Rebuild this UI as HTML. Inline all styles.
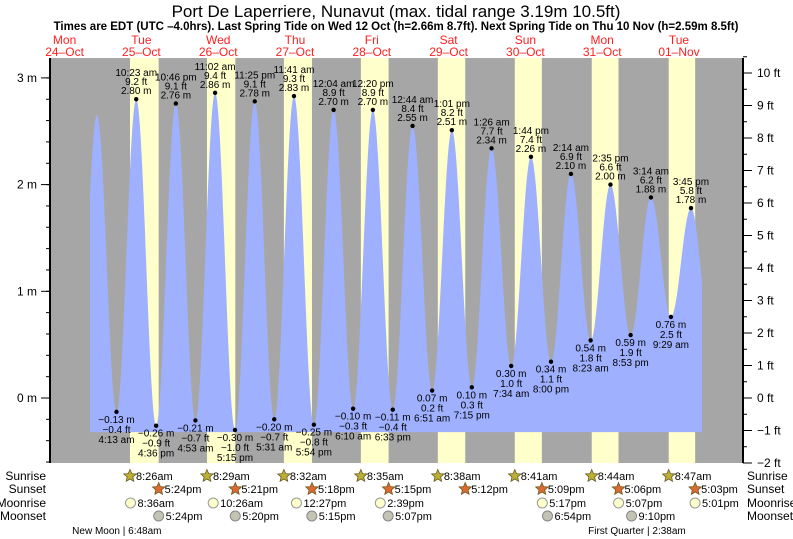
<!DOCTYPE html>
<html><head><meta charset="utf-8"><style>
html,body{margin:0;padding:0;background:#fff}
svg{display:block;font-family:"Liberation Sans",sans-serif}
</style></head><body>
<svg id="chart" width="793" height="539" viewBox="0 0 793 539" xmlns="http://www.w3.org/2000/svg">
<text x="396" y="17" text-anchor="middle" font-size="17">Port De Laperriere, Nunavut (max. tidal range 3.19m 10.5ft)</text>
<text x="396" y="30" text-anchor="middle" font-size="11.5" font-weight="bold">Times are EDT (UTC –4.0hrs). Last Spring Tide on Wed 12 Oct (h=2.66m 8.7ft). Next Spring Tide on Thu 10 Nov (h=2.59m 8.5ft)</text>
<g id="bands"></g><g id="tide"></g><g id="axes"></g><g id="labels"></g><g id="astro"></g>
</svg>
<script>
// ---- data ----
const dayNames = ["Mon","Tue","Wed","Thu","Fri","Sat","Sun","Mon","Tue"];
const dayDates = ["24–Oct","25–Oct","26–Oct","27–Oct","28–Oct","29–Oct","30–Oct","31–Oct","01–Nov"];
const sunriseTimes = ["8:26am","8:29am","8:32am","8:35am","8:38am","8:41am","8:44am","8:47am"];
const sunsetTimes = ["5:24pm","5:21pm","5:18pm","5:15pm","5:12pm","5:09pm","5:06pm","5:03pm"];
const sunDays = [1,2,3,4,5,6,7,8];
const moonriseDays = [1,2,3,4,6,7,8];
const moonriseTimes = ["8:36am","10:26am","12:27pm","2:39pm","5:17pm","5:07pm","5:01pm"];
const moonsetDays = [1,2,3,4,6,7];
const moonsetTimes = ["5:24pm","5:20pm","5:15pm","5:07pm","6:54pm","9:10pm"];
const phaseNames = ["New Moon","First Quarter"];
const phaseDays = [1,8];
const phaseTimes = ["6:48am","2:38am"];
const tideDays = [1,1,1,1, 2,2,2,2, 3,3,3, 4,4,4,4, 5,5,5,5, 6,6,6,6, 7,7,7,7, 8,8,8];
const tideTimes = ["4:13 am","10:23 am","4:36 pm","10:46 pm","4:53 am","11:02 am","5:15 pm","11:25 pm","5:31 am","11:41 am","5:54 pm",
 "12:04 am","6:10 am","12:20 pm","6:33 pm","12:44 am","6:51 am","1:01 pm","7:15 pm","1:26 am","7:34 am","1:44 pm","8:00 pm",
 "2:14 am","8:23 am","2:35 pm","8:53 pm","3:14 am","9:29 am","3:45 pm"];
const tideMeters = [-0.13,2.80,-0.26,2.76,-0.21,2.86,-0.30,2.78,-0.20,2.83,-0.25,2.70,-0.10,2.70,-0.11,2.55,0.07,2.51,0.10,2.34,0.30,2.26,0.34,2.10,0.54,2.00,0.59,1.88,0.76,1.78];
const tideFeet = ["−0.4","9.2","−0.9","9.1","−0.7","9.4","−1.0","9.1","−0.7","9.3","−0.8","8.9","−0.3","8.9","−0.4","8.4","0.2","8.2","0.3","7.7","1.0","7.4","1.1","6.9","1.8","6.6","1.9","6.2","2.5","5.8"];
// unlabeled extremes outside labeled range
const extraDays = [0,0,8];
const extraTimes = ["3:55 pm","10:06 pm","9:55 pm"];
const extraMeters = [-0.10,2.65,0.60];
const mTicks = [0,1,2,3];
const ftTicks = [-2,-1,0,1,2,3,4,5,6,7,8,9,10];

// ---- scales ----
const X0 = 26.2, PXH = 3.2, L = 50, R = 743, T = 58, B = 463;
function parseT(s){const m=s.match(/(\d+):(\d+)\s*(am|pm)/);let h=+m[1]%12;if(m[3]=="pm")h+=12;return h+ +m[2]/60;}
function xT(day,s){return X0+(day*24+parseT(s))*PXH;}
function yM(m){return 398-m*106.7;}
function yF(f){return 398-f*32.5;}
const NS="http://www.w3.org/2000/svg";
function el(tag,attrs,parent,txt){const e=document.createElementNS(NS,tag);for(const k in attrs)e.setAttribute(k,attrs[k]);if(txt!==undefined)e.textContent=txt;parent.appendChild(e);return e;}
const bands=document.getElementById("bands"),tide=document.getElementById("tide"),axes=document.getElementById("axes"),labels=document.getElementById("labels"),astro=document.getElementById("astro");

const bg=el("rect",{x:L,y:T,width:R-L,height:B-T,fill:"#a6a6a6"},bands);


sunDays.forEach((d,i)=>{
  const x1=xT(d,sunriseTimes[i]),x2=xT(d,sunsetTimes[i]);
  const r=el("rect",{x:x1,y:T,width:x2-x1,height:B-T,fill:"#ffffcc"},bands);
  
  
});
dayNames.forEach((n,i)=>{
  const cx=X0+(i*24+12)*PXH;
  const t1=el("text",{x:cx,y:44,"text-anchor":"middle","font-size":"12",fill:"#ff2020"},labels,n);
  
  
  const t2=el("text",{x:cx,y:56,"text-anchor":"middle","font-size":"12",fill:"#ff2020"},labels,dayDates[i]);
  
  
});

// extremes combined
let ext=[];
extraDays.forEach((d,i)=>ext.push({t:d*24+parseT(extraTimes[i]),m:extraMeters[i]}));
tideDays.forEach((d,i)=>ext.push({t:d*24+parseT(tideTimes[i]),m:tideMeters[i]}));
ext.sort((a,b)=>a.t-b.t);
function hAt(t){for(let i=0;i<ext.length-1;i++){const a=ext[i],b=ext[i+1];if(t>=a.t&&t<=b.t){const p=(t-a.t)/(b.t-a.t);return b.m+(a.m-b.m)*(1+Math.cos(Math.PI*p))/2;}}return ext[ext.length-1].m;}
const xs=90,xe=702,yb=yM(-0.32);
let pts=[[xs,yb]];
for(let x=xs;x<=xe;x+=0.5){const t=(x-X0)/PXH;pts.push([x,yM(hAt(t))]);}
pts.push([xe,yb]);
const area=el("polygon",{points:pts.map(p=>p[0].toFixed(1)+","+p[1].toFixed(1)).join(" "),fill:"#9fb1fe"},tide);



tideDays.forEach((d,i)=>{
  const x=xT(d,tideTimes[i]),y=yM(tideMeters[i]);
  const high=i>0?tideMeters[i]>tideMeters[i-1]:tideMeters[i]>tideMeters[i+1];
  const c=el("circle",{cx:x,cy:y,r:2.2,fill:"#000"},tide);
  
  
  const mTxt=tideMeters[i].toFixed(2).replace("-","−")+" m",fTxt=tideFeet[i]+" ft";
  const lines=high?[[tideTimes[i],-23],[fTxt,-14],[mTxt,-5]]:[[mTxt,11],[fTxt,21],[tideTimes[i],31]];
  lines.forEach(l=>{
    const t=el("text",{x:x,y:y+l[1],"text-anchor":"middle","font-size":"10",fill:"#000"},labels,l[0]);
    
    
  });
});

// axes
el("line",{x1:L,y1:T,x2:L,y2:B,stroke:"#000","stroke-width":2},axes);
el("line",{x1:R,y1:T,x2:R,y2:B,stroke:"#000","stroke-width":2},axes);
for(let v=-0.6;v<=3.19;v+=0.2){const y=yM(v);el("line",{x1:L-4,y1:y,x2:L,y2:y,stroke:"#000"},axes);}
mTicks.forEach(v=>{const y=yM(v);el("line",{x1:L-9,y1:y,x2:L,y2:y,stroke:"#000"},axes);
  const t=el("text",{x:37,y:y+4,"text-anchor":"end","font-size":"12"},axes,v+" m");
  
  });
for(let v=-2;v<=10.5;v+=0.5){const y=yF(v);el("line",{x1:R,y1:y,x2:R+4,y2:y,stroke:"#000"},axes);}
ftTicks.forEach(v=>{const y=yF(v);el("line",{x1:R,y1:y,x2:R+9,y2:y,stroke:"#000"},axes);
  const t=el("text",{x:757,y:y+4,"font-size":"12"},axes,(v<0?"−"+(-v):v)+" ft");
  
  });

// astro rows
const rowY={rise:476,set:489,mrise:503,mset:516};
[["Sunrise",rowY.rise],["Sunset",rowY.set],["Moonrise",rowY.mrise],["Moonset",rowY.mset]].forEach(r=>{
  const a=el("text",{x:46,y:r[1]+4,"text-anchor":"end","font-size":"12"},astro,r[0]);
  
  
  const b=el("text",{x:747,y:r[1]+4,"font-size":"12"},astro,r[0]);
  
  
});
function star(cx,cy,fill){let p=[];for(let k=0;k<10;k++){const r=k%2?3:6.5,a=-Math.PI/2+k*Math.PI/5;p.push((cx+r*Math.cos(a)).toFixed(1)+","+(cy+r*Math.sin(a)).toFixed(1));}
  return el("polygon",{points:p.join(" "),fill:fill,stroke:"#6b5a20","stroke-width":0.8},astro);}
sunDays.forEach((d,i)=>{
  let x=xT(d,sunriseTimes[i].replace("am"," am"));
  const s=star(x,rowY.rise,"#b9b035");
  const t=el("text",{x:x+6,y:rowY.rise+4,"font-size":"11"},astro,sunriseTimes[i]);
  x=xT(d,sunsetTimes[i].replace("pm"," pm"));
  const s2=star(x,rowY.set,"#dd6a30");
  const t2=el("text",{x:x+6,y:rowY.set+4,"font-size":"11"},astro,sunsetTimes[i]);
});
moonriseDays.forEach((d,i)=>{
  const x=xT(d,moonriseTimes[i].replace(/(am|pm)/," $1"));
  const c=el("circle",{cx:x,cy:rowY.mrise,r:5,fill:"#ffffcc",stroke:"#999"},astro);
  const t=el("text",{x:x+7,y:rowY.mrise+4,"font-size":"11"},astro,moonriseTimes[i]);
});
moonsetDays.forEach((d,i)=>{
  const x=xT(d,moonsetTimes[i].replace(/(am|pm)/," $1"));
  const c=el("circle",{cx:x,cy:rowY.mset,r:5,fill:"#c4c4b4",stroke:"#888"},astro);
  const t=el("text",{x:x+7,y:rowY.mset+4,"font-size":"11"},astro,moonsetTimes[i]);
});
phaseDays.forEach((d,i)=>{
  const x=xT(d,phaseTimes[i].replace(/(am|pm)/," $1"))-2;
  const t=el("text",{x:x,y:534,"text-anchor":"end","font-size":"10"},astro,phaseNames[i]+"\u00a0");
  
  
  const t2=el("text",{x:x,y:534,"font-size":"10"},astro,"|\u00a0"+phaseTimes[i]);
  
  
});
</script>
</body></html>
